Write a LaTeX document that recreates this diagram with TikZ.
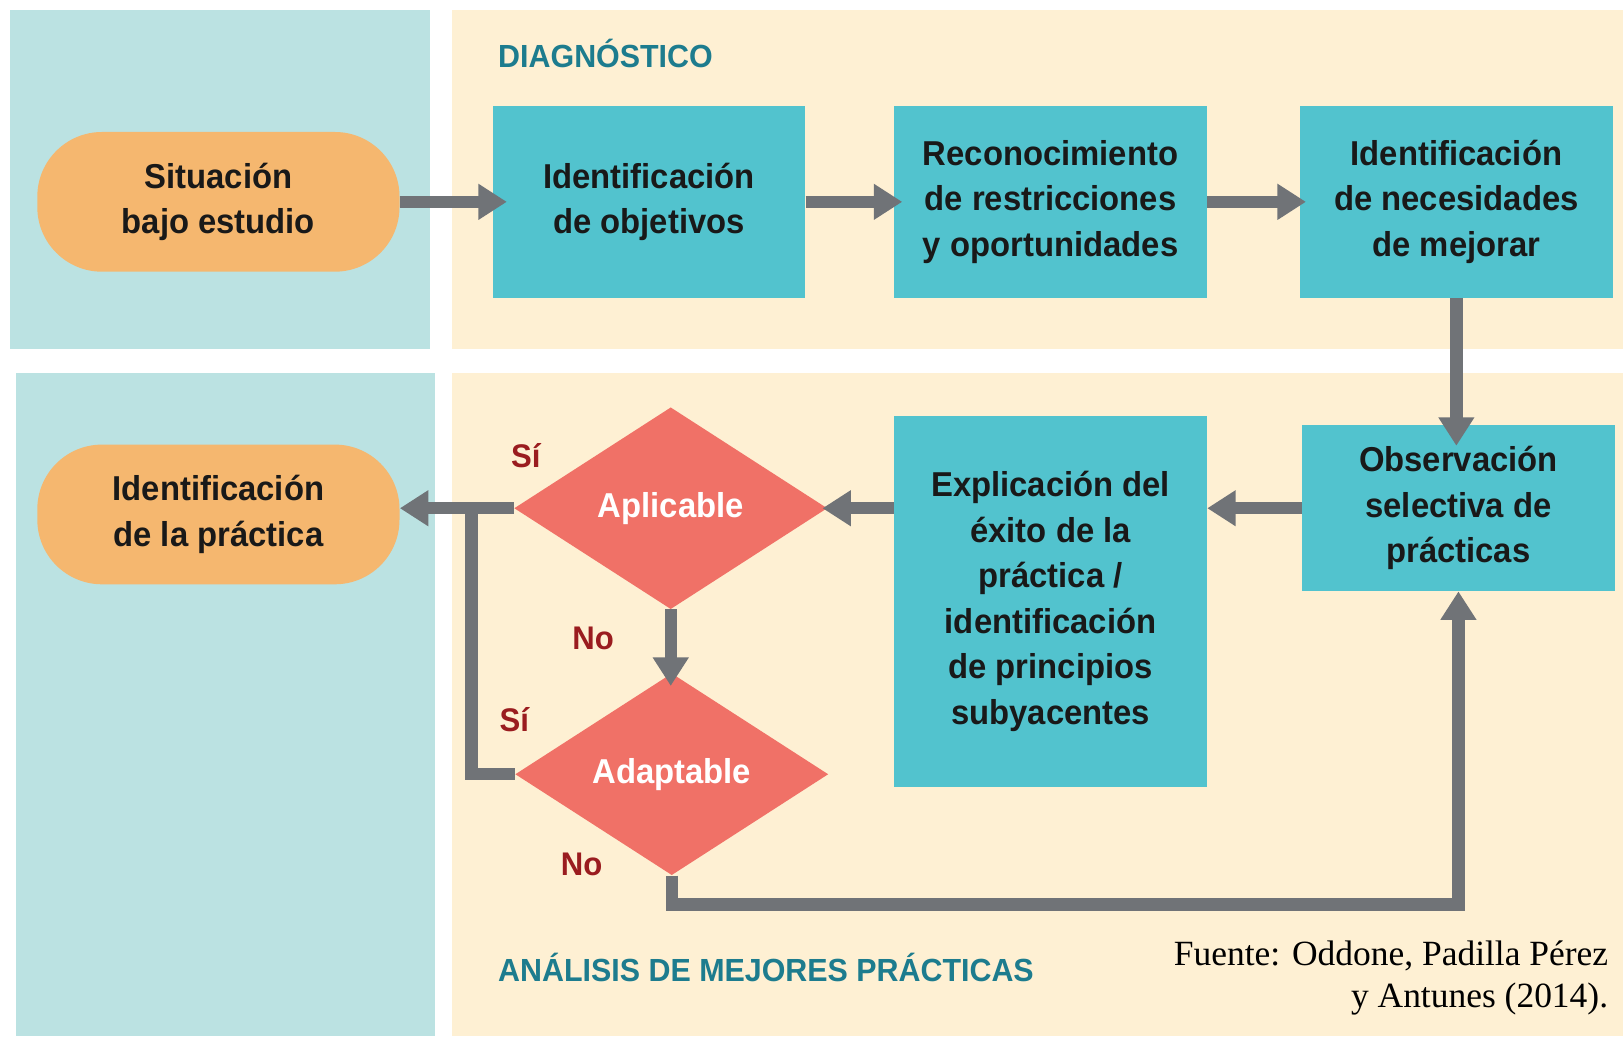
\documentclass[tikz,border=0pt]{standalone}
\usepackage{fontspec}
\setmainfont{Liberation Serif}
\newfontfamily\bsans[FakeStretch=0.95]{Liberation Sans}
\usetikzlibrary{arrows.meta,shapes.geometric,calc}
\definecolor{paneT}{HTML}{BBE2E2}
\definecolor{paneB}{HTML}{FEF0D3}
\definecolor{boxc}{HTML}{52C3CE}
\definecolor{pillc}{HTML}{F5B76F}
\definecolor{diac}{HTML}{F07167}
\definecolor{arrowc}{HTML}{707377}
\definecolor{headc}{HTML}{1D7C8E}
\definecolor{labc}{HTML}{9A1C1F}
\begin{document}
\begin{tikzpicture}[x=0.02cm,y=-0.02cm,
  boxtxt/.style={font=\bsans\bfseries\fontsize{19}{25}\selectfont, text=black!90, align=center},
  stepbox/.style={boxtxt, fill=boxc, minimum width=6.04cm, minimum height=3.7cm, inner sep=0pt},
  pill/.style={boxtxt, fill=pillc, rounded corners=1.25cm, minimum width=7cm, minimum height=2.7cm, inner sep=0pt},
  decision/.style={shape=diamond, fill=diac, inner sep=0pt, minimum width=6.05cm, minimum height=3.9cm,
     font=\bsans\bfseries\fontsize{19}{25}\selectfont, text=white},
  conn/.style={draw=arrowc, line width=0.24cm, line join=miter},
  arr/.style={conn, -{Triangle[width=0.66cm,length=0.55cm]}},
  heading/.style={font=\bsans\bfseries\fontsize{17.6}{20}\selectfont, text=headc, inner sep=0pt},
  yn/.style={font=\bsans\bfseries\fontsize{18}{20}\selectfont, text=labc, inner sep=0pt}
]
\useasboundingbox (0,0) rectangle (1568,1001);
% panels
\fill[paneT] (10,10) rectangle (415,337);
\fill[paneB] (437,10) rectangle (1568,337);
\fill[paneT] (15,360) rectangle (420,1001);
\fill[paneB] (437,360) rectangle (1568,1001);

% headings
\node[heading, anchor=west] (diag) at (481,52) {DIAGNÓSTICO};
\node[heading, anchor=west] (anal) at (481,935) {ANÁLISIS DE MEJORES PRÁCTICAS};
\node[anchor=east, align=right, inner sep=0pt, font=\fontsize{19.5}{22.8}\selectfont] (src) at (1554,945)
  {Fuente: Oddone, Padilla Pérez\\y Antunes (2014).};

% top row
\node[pill] (sit) at (211,195) {Situación\\bajo estudio};
\node[stepbox] (b1) at (627,195) {Identificación\\de objetivos};
\node[stepbox] (b2) at (1015,195) {Reconocimiento\\de restricciones\\y oportunidades};
\node[stepbox] (b3) at (1407,195) {Identificación\\de necesidades\\de mejorar};

% bottom row
\node[pill] (prac) at (211,497) {Identificación\\de la práctica};
\node[decision] (apl) at (648,491) {Aplicable};
\node[decision] (adap) at (649,748) {Adaptable};
\node[stepbox, minimum height=7.16cm] (exp) at (1015,581)
  {Explicación del\\éxito de la\\práctica /\\identificación\\de principios\\subyacentes};
\node[stepbox, minimum height=3.2cm] (obs) at (1409,491) {Observación\\selectiva de\\prácticas};

% labels
\node[yn] (si1) at (508,440) {Sí};
\node[yn] (no1) at (573,617) {No};
\node[yn] (si2) at (497,695) {Sí};
\node[yn] (no2) at (562,835) {No};

% connectors
\draw[arr, shorten >=-0.28cm] (sit.east) -- (b1.west);
\draw[arr, shorten >=-0.16cm] (b1.east) -- (b2.west);
\draw[arr, shorten >=-0.12cm] (b2.east) -- (b3.west);
\draw[arr, shorten >=-0.4cm] (b3.south) -- (b3.south |- obs.north);
\draw[arr] (obs.west) -- (obs.west -| exp.east);
\draw[arr, shorten >=-0.1cm] (exp.west |- apl.east) -- (apl.east);
\draw[arr] (apl.west) -- (apl.west -| prac.east);
\draw[arr, shorten >=-0.25cm] (apl.south) -- (apl.south |- adap.north);
\draw[conn] (adap.west) -- ++(-42,0) |- (apl.west);
\draw[arr] (adap.south) -- ++(0,28) -| (obs.south);
\end{tikzpicture}
\end{document}
